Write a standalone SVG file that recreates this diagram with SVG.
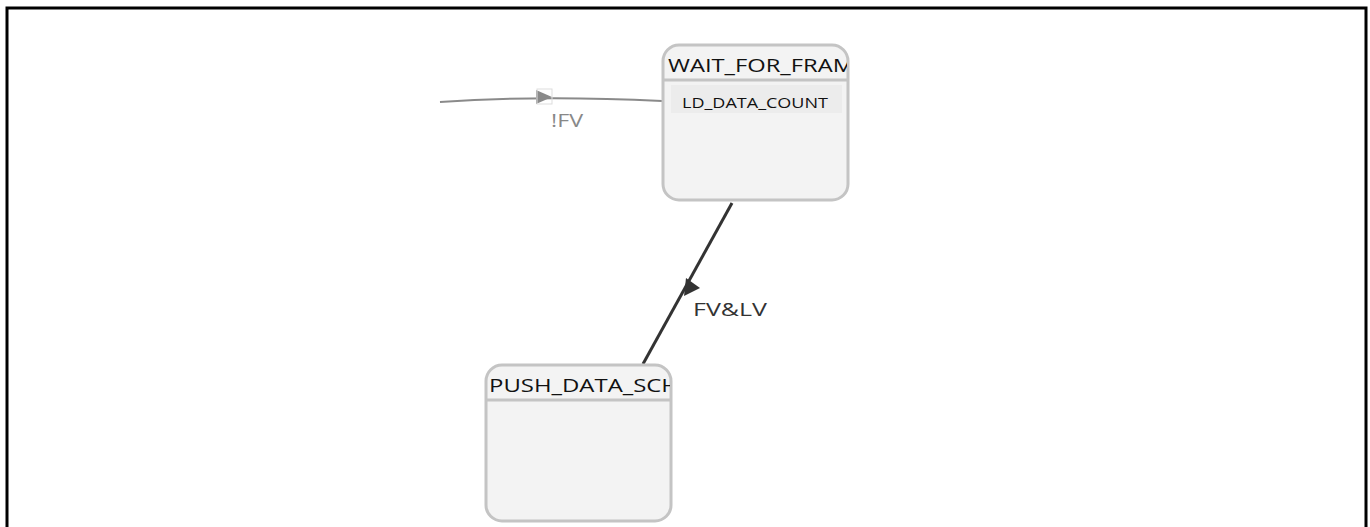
<svg xmlns="http://www.w3.org/2000/svg" width="1370" height="527" viewBox="0 0 1370 527">
<style>
.node{fill:#f3f3f3;stroke:#c4c4c4;stroke-width:3}
.sep{stroke:#c4c4c4;stroke-width:3}
.title{font-family:"Open Sans","DejaVu Sans",sans-serif;font-size:18px;fill:#111}
.row{font-family:"Open Sans","DejaVu Sans",sans-serif;font-size:14px;fill:#111}
.lbl{font-family:"Open Sans","DejaVu Sans",sans-serif;font-size:19px}
</style>
<defs>
<clipPath id="c1"><rect x="664" y="46" width="183" height="34"/></clipPath>
<clipPath id="c2"><rect x="487" y="366" width="183" height="34"/></clipPath>
</defs>
<rect x="0" y="0" width="1370" height="527" fill="#fff"/>
<path d="M7,527 V8 H1366 V527" fill="none" stroke="#000" stroke-width="3"/>
<g id="connectors">
<path d="M440,102 Q540,95 662,101" fill="none" stroke="#8a8a8a" stroke-width="2"/>
<path d="M536,90 L552,97 L536,104 z" fill="#8a8a8a"/>
<rect x="537" y="89" width="15" height="15" fill="none" stroke="#ddd" stroke-width="1"/>
<text class="lbl" x="551" y="127" fill="#888" textLength="32" lengthAdjust="spacingAndGlyphs">!FV</text>
<path d="M732,203 L643,364" fill="none" stroke="#333" stroke-width="3"/>
<path d="M686,278 L700,288 L684,296 z" fill="#333"/>
<text class="lbl" x="693" y="316" fill="#333" textLength="74" lengthAdjust="spacingAndGlyphs">FV&amp;LV</text>
</g>
<g id="wait_for_frame">
<rect class="node" x="663" y="45" width="185" height="155" rx="16"/>
<line class="sep" x1="663" y1="80" x2="848" y2="80"/>
<rect x="671" y="85" width="171" height="28" fill="#ececec"/>
<g clip-path="url(#c1)"><text class="title" x="668" y="72" textLength="186" lengthAdjust="spacingAndGlyphs">WAIT_FOR_FRAM</text></g>
<text class="row" x="682" y="108" textLength="146" lengthAdjust="spacingAndGlyphs">LD_DATA_COUNT</text>
</g>
<g id="push_data_sch">
<rect class="node" x="486" y="365" width="185" height="156" rx="16"/>
<line class="sep" x1="486" y1="400" x2="671" y2="400"/>
<g clip-path="url(#c2)"><text class="title" x="489" y="392" textLength="190" lengthAdjust="spacingAndGlyphs">PUSH_DATA_SCH</text></g>
</g>
</svg>
